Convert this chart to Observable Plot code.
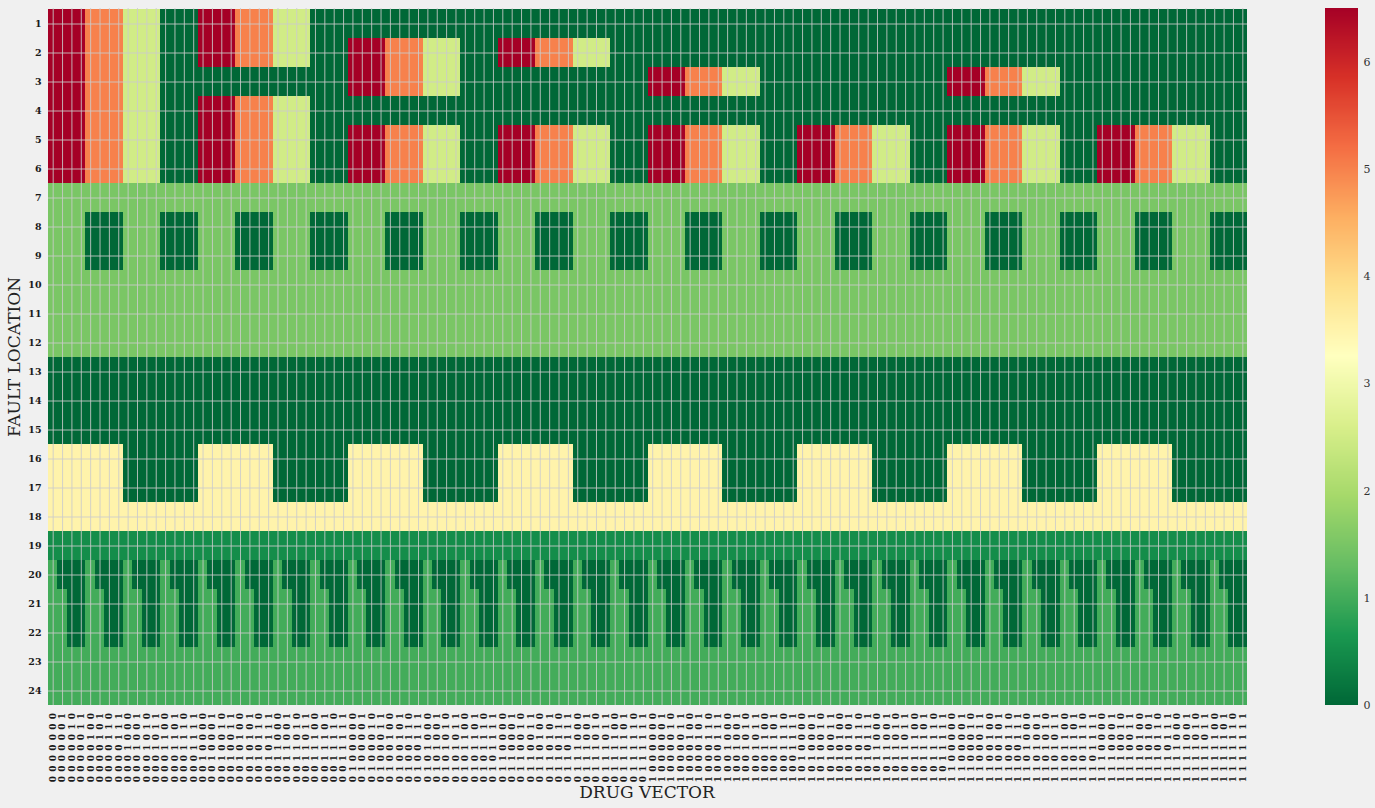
<!DOCTYPE html>
<html>
<head>
<meta charset="utf-8">
<script src="https://cdn.jsdelivr.net/npm/d3@7"></script>
<script src="https://cdn.jsdelivr.net/npm/@observablehq/plot@0.6"></script>
<style>
html, body { margin: 0; padding: 0; background: #f0f0f0; overflow: hidden; }
#wrap { position: relative; width: 1375px; height: 808px; background: #f0f0f0; }
#main { position: absolute; left: 0; top: 0; }
#cbar { position: absolute; left: 1300px; top: 0; }
.axlabel { position: absolute; font-family: "DejaVu Serif"; font-size: 17px; color: #222; white-space: nowrap; transform: translate(-50%, -50%); }
#ylab { left: 14px; top: 357px; transform: translate(-50%, -50%) rotate(-90deg); }
#xlab { left: 647px; top: 792px; }
#main [aria-label^="x-axis"] text { font-size: 9px; letter-spacing: 0.55px; }
#main [aria-label^="y-axis"] text { font-size: 9.5px; }
</style>
</head>
<body>
<div id="wrap">
  <div id="main"></div>
  <div id="cbar"></div>
  <div class="axlabel" id="ylab">FAULT LOCATION</div>
  <div class="axlabel" id="xlab">DRUG VECTOR</div>
</div>
<script>
// ---- data ----
const faultLocations = [1,2,3,4,5,6,7,8,9,10,11,12,13,14,15,16,17,18,19,20,21,22,23,24];
const drugVectors = d3.range(128).map(i => i.toString(2).padStart(7, "0").split("").join(" "));
// value codes used in the row strings
const levelCodes  = ["0", "a", "b", "c", "d", "e", "f", "g"];
const levelValues = [0, 0.5, 1, 1.5, 2.5, 3.5, 5, 6.5];
// one string per fault location, 128 drug vectors each (blocks of 16 separated by spaces)
const rowCodes = [
  "ggggffffdddd0000 ggggffffdddd0000 0000000000000000 0000000000000000 0000000000000000 0000000000000000 0000000000000000 0000000000000000",
  "ggggffffdddd0000 ggggffffdddd0000 ggggffffdddd0000 ggggffffdddd0000 0000000000000000 0000000000000000 0000000000000000 0000000000000000",
  "ggggffffdddd0000 0000000000000000 ggggffffdddd0000 0000000000000000 ggggffffdddd0000 0000000000000000 ggggffffdddd0000 0000000000000000",
  "ggggffffdddd0000 ggggffffdddd0000 0000000000000000 0000000000000000 0000000000000000 0000000000000000 0000000000000000 0000000000000000",
  "ggggffffdddd0000 ggggffffdddd0000 ggggffffdddd0000 ggggffffdddd0000 ggggffffdddd0000 ggggffffdddd0000 ggggffffdddd0000 ggggffffdddd0000",
  "ggggffffdddd0000 ggggffffdddd0000 ggggffffdddd0000 ggggffffdddd0000 ggggffffdddd0000 ggggffffdddd0000 ggggffffdddd0000 ggggffffdddd0000",
  "cccccccccccccccc cccccccccccccccc cccccccccccccccc cccccccccccccccc cccccccccccccccc cccccccccccccccc cccccccccccccccc cccccccccccccccc",
  "cccc0000cccc0000 cccc0000cccc0000 cccc0000cccc0000 cccc0000cccc0000 cccc0000cccc0000 cccc0000cccc0000 cccc0000cccc0000 cccc0000cccc0000",
  "cccc0000cccc0000 cccc0000cccc0000 cccc0000cccc0000 cccc0000cccc0000 cccc0000cccc0000 cccc0000cccc0000 cccc0000cccc0000 cccc0000cccc0000",
  "cccccccccccccccc cccccccccccccccc cccccccccccccccc cccccccccccccccc cccccccccccccccc cccccccccccccccc cccccccccccccccc cccccccccccccccc",
  "cccccccccccccccc cccccccccccccccc cccccccccccccccc cccccccccccccccc cccccccccccccccc cccccccccccccccc cccccccccccccccc cccccccccccccccc",
  "cccccccccccccccc cccccccccccccccc cccccccccccccccc cccccccccccccccc cccccccccccccccc cccccccccccccccc cccccccccccccccc cccccccccccccccc",
  "0000000000000000 0000000000000000 0000000000000000 0000000000000000 0000000000000000 0000000000000000 0000000000000000 0000000000000000",
  "0000000000000000 0000000000000000 0000000000000000 0000000000000000 0000000000000000 0000000000000000 0000000000000000 0000000000000000",
  "0000000000000000 0000000000000000 0000000000000000 0000000000000000 0000000000000000 0000000000000000 0000000000000000 0000000000000000",
  "eeeeeeee00000000 eeeeeeee00000000 eeeeeeee00000000 eeeeeeee00000000 eeeeeeee00000000 eeeeeeee00000000 eeeeeeee00000000 eeeeeeee00000000",
  "eeeeeeee00000000 eeeeeeee00000000 eeeeeeee00000000 eeeeeeee00000000 eeeeeeee00000000 eeeeeeee00000000 eeeeeeee00000000 eeeeeeee00000000",
  "eeeeeeeeeeeeeeee eeeeeeeeeeeeeeee eeeeeeeeeeeeeeee eeeeeeeeeeeeeeee eeeeeeeeeeeeeeee eeeeeeeeeeeeeeee eeeeeeeeeeeeeeee eeeeeeeeeeeeeeee",
  "aaaaaaaaaaaaaaaa aaaaaaaaaaaaaaaa aaaaaaaaaaaaaaaa aaaaaaaaaaaaaaaa aaaaaaaaaaaaaaaa aaaaaaaaaaaaaaaa aaaaaaaaaaaaaaaa aaaaaaaaaaaaaaaa",
  "b000b000b000b000 b000b000b000b000 b000b000b000b000 b000b000b000b000 b000b000b000b000 b000b000b000b000 b000b000b000b000 b000b000b000b000",
  "bb00bb00bb00bb00 bb00bb00bb00bb00 bb00bb00bb00bb00 bb00bb00bb00bb00 bb00bb00bb00bb00 bb00bb00bb00bb00 bb00bb00bb00bb00 bb00bb00bb00bb00",
  "bb00bb00bb00bb00 bb00bb00bb00bb00 bb00bb00bb00bb00 bb00bb00bb00bb00 bb00bb00bb00bb00 bb00bb00bb00bb00 bb00bb00bb00bb00 bb00bb00bb00bb00",
  "bbbbbbbbbbbbbbbb bbbbbbbbbbbbbbbb bbbbbbbbbbbbbbbb bbbbbbbbbbbbbbbb bbbbbbbbbbbbbbbb bbbbbbbbbbbbbbbb bbbbbbbbbbbbbbbb bbbbbbbbbbbbbbbb",
  "bbbbbbbbbbbbbbbb bbbbbbbbbbbbbbbb bbbbbbbbbbbbbbbb bbbbbbbbbbbbbbbb bbbbbbbbbbbbbbbb bbbbbbbbbbbbbbbb bbbbbbbbbbbbbbbb bbbbbbbbbbbbbbbb"
];
const colorbarTicks = [0, 1, 2, 3, 4, 5, 6];

// RdYlGn reversed (matplotlib-style linear segments), vmin 0, vmax 6.5
const cmapStops  = [0, 0.65, 1.3, 1.95, 2.6, 3.25, 3.9, 4.55, 5.2, 5.85, 6.5];
const cmapColors = ["#006837", "#1a9850", "#66bd63", "#a6d96a", "#d9ef8b", "#ffffbf",
                    "#fee08b", "#fdae61", "#f46d43", "#d73027", "#a50026"];
const colorScale = {type: "linear", domain: cmapStops, range: cmapColors, interpolate: "rgb"};

// ---- build table ----
const cells = rowCodes.flatMap((s, r) => {
  const codes = s.replace(/ /g, "").split("");
  return codes.map((ch, c) => ({
    drug: drugVectors[c],
    fault: faultLocations[r],
    value: levelValues[levelCodes.indexOf(ch)]
  }));
});

// ---- main heatmap ----
const main = Plot.plot({
  width: 1300,
  height: 808,
  marginLeft: 48,
  marginRight: 53,
  marginTop: 8,
  marginBottom: 103,
  style: {background: "#f0f0f0", fontFamily: "DejaVu Serif", fontWeight: "bold", color: "#1a1a1a", overflow: "visible"},
  x: {type: "band", domain: drugVectors, padding: 0, ticks: drugVectors, tickRotate: -90, tickSize: 0, tickPadding: 7, label: null},
  y: {type: "band", domain: faultLocations, padding: 0, ticks: faultLocations, tickSize: 0, tickPadding: 7, label: null},
  color: colorScale,
  marks: [
    Plot.cell(cells, {x: "drug", y: "fault", fill: "value", inset: 0, shapeRendering: "crispEdges"}),
    Plot.ruleX(drugVectors, {stroke: "#cbcbcb", strokeWidth: 1, strokeOpacity: 0.85}),
    Plot.ruleY(faultLocations, {stroke: "#cbcbcb", strokeWidth: 1, strokeOpacity: 0.85})
  ]
});
document.getElementById("main").appendChild(main);

// ---- colorbar ----
const cbStops = d3.range(0, 6.5, 0.01);
const cbar = Plot.plot({
  width: 75,
  height: 808,
  marginLeft: 25,
  marginRight: 17,
  marginTop: 8,
  marginBottom: 103,
  style: {background: "#f0f0f0", fontFamily: "DejaVu Serif", fontSize: "11px", color: "#333", overflow: "visible"},
  x: {domain: [0, 1], axis: null},
  y: {domain: [0, 6.5], axis: "right", ticks: colorbarTicks, tickSize: 0, tickPadding: 5, label: null, tickFormat: d => String(d)},
  color: colorScale,
  marks: [
    Plot.rect(cbStops, {x1: 0, x2: 1, y1: d => d, y2: d => Math.min(6.5, d + 0.015), fill: d => d, shapeRendering: "crispEdges"})
  ]
});
document.getElementById("cbar").appendChild(cbar);
</script>
</body>
</html>
